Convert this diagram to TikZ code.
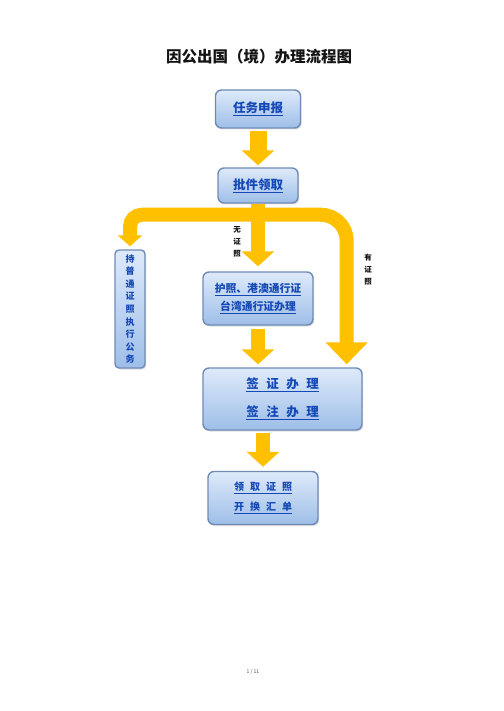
\documentclass[tikz,border=0pt]{standalone}
\usepackage{fontspec}
\setmainfont{Noto Sans CJK SC}
\usepackage{xcolor}
\definecolor{flowGold}  {RGB}{255, 192,   0}
\definecolor{flowTop}   {RGB}{222, 234, 250}
\definecolor{flowBot}   {RGB}{158, 190, 232}
\definecolor{flowEdge}  {RGB}{112, 140, 182}
\definecolor{flowText}  {RGB}{ 20,  72, 182}
\definecolor{flowInk}   {RGB}{ 20,  20,  20}
\usepackage{tikz}
\usetikzlibrary{
  arrows.meta,
  positioning,
  shadows,
}

\begin{document}
\begin{tikzpicture}[
  x=1pt, y=-1pt,
  box/.style={draw=flowEdge, line width=1.4pt, rounded corners=6pt,
              top color=flowTop, bottom color=flowBot, inner sep=0pt,
              align=center, text=flowText, font=\bfseries,
              drop shadow={shadow xshift=1.2pt, shadow yshift=-1.5pt,
                           fill=black!25}},
  band/.style={draw=flowGold, line width=14pt},
  bandarrow/.style={band, -{Triangle[width=32pt,length=15pt]}},
  tag/.style={font=\fontsize{7.5}{12}\selectfont\bfseries, text=flowInk,
              align=center, inner sep=0pt},
]
  \useasboundingbox[fill=white] (0,0) rectangle (503,711);

  % Title
  \node[font=\fontsize{15.5}{17}\selectfont\bfseries, text=flowInk] (title)
    at (259,57) {因公出国（境）办理流程图};

  % Steps, top to bottom
  \node[box, minimum width=85pt, minimum height=38pt,
        font=\fontsize{12.5}{14}\selectfont\bfseries] (rw) at (258,109)
    {\underline{任务申报}};
  \node[box, minimum width=80pt, minimum height=35pt,
        font=\fontsize{12.5}{14}\selectfont\bfseries] (lq) at (258,185.5)
    {\underline{批件领取}};

  % Three branches under the yellow band
  \node[box, minimum width=30pt, minimum height=118pt, rounded corners=4pt,
        font=\fontsize{9}{12.6}\selectfont\bfseries] (cz) at (130,309)
    {持\\普\\通\\证\\照\\执\\行\\公\\务};
  \node[box, minimum width=110pt, minimum height=53pt,
        font=\fontsize{10.8}{18}\selectfont\bfseries] (hz) at (258,298.5)
    {\underline{护照、港澳通行证}\\\underline{台湾通行证办理}};

  \node[box, minimum width=159pt, minimum height=62pt,
        font=\fontsize{12.5}{28}\selectfont\bfseries] (qz) at (282.5,399)
    {\underline{签\hspace{0.6em}证\hspace{0.6em}办\hspace{0.6em}理}\\
     \underline{签\hspace{0.6em}注\hspace{0.6em}办\hspace{0.6em}理}};
  \node[box, minimum width=110pt, minimum height=53pt,
        font=\fontsize{10}{20}\selectfont\bfseries] (lz) at (263,498)
    {\underline{领\hspace{0.6em}取\hspace{0.6em}证\hspace{0.6em}照}\\
     \underline{开\hspace{0.6em}换\hspace{0.6em}汇\hspace{0.6em}单}};

  % Branch tags
  \node[tag] (wz) at (237,242) {无\\证\\照};
  \node[tag] (yz) at (368,270) {有\\证\\照};

  % Page number
  \node[font=\fontsize{5}{6}\selectfont, text=black!70] (pg) at (253,672) {1 / 11};

  % Straight steps
  \draw[bandarrow, line width=17pt, shorten <=2pt, shorten >=2pt]
    (rw.south) -- (lq.north);
  \draw[bandarrow, shorten >=5pt] (lq.south) -- (hz.north);
  \draw[bandarrow, shorten <=3pt, shorten >=3pt]
    (hz.south) -- (hz.south |- qz.north);
  \draw[bandarrow, shorten <=2pt, shorten >=4pt]
    (lz.north |- qz.south) -- (lz.north);

  % Yellow band splitting left and right
  \coordinate (fork) at ([yshift=-11pt]lq.south);
  \draw[band, -{Triangle[width=24pt,length=11pt]}, rounded corners=12pt,
        shorten >=3pt] (fork) -| (cz.north);
  \draw[band, -{Triangle[width=41pt,length=22pt]}, rounded corners=26pt,
        shorten >=3pt] (fork) -| ([xshift=-16pt]qz.north east);
\end{tikzpicture}
\end{document}
